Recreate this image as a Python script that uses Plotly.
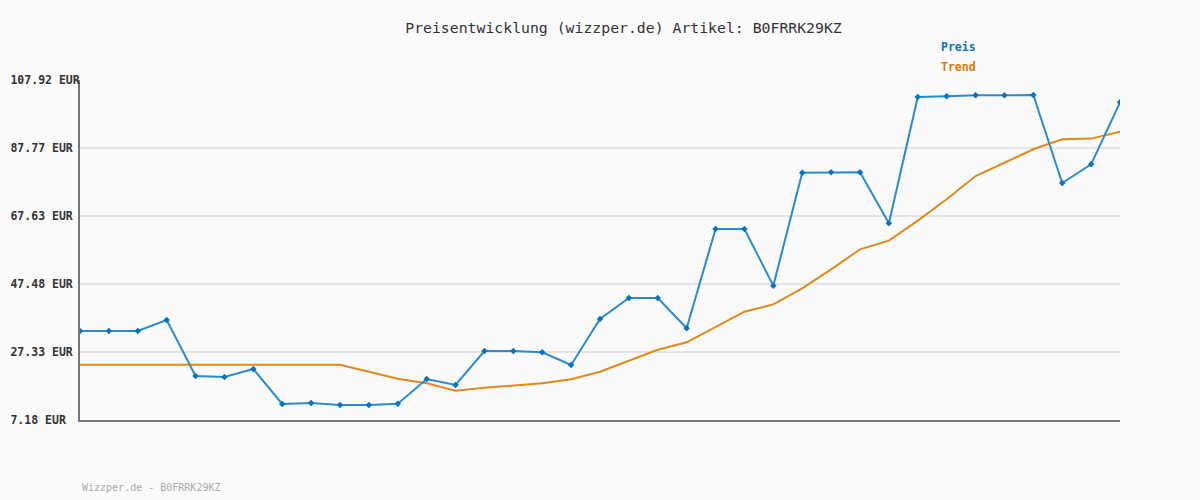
import plotly.graph_objects as go

preis = [33.55, 33.55, 33.55, 36.81, 20.22, 19.92, 22.29, 11.92, 12.22, 11.62, 11.62, 12.0,
         19.33, 17.55, 27.62, 27.62, 27.24, 23.48, 37.11, 43.33, 43.33, 34.35, 63.77, 63.77,
         46.98, 80.46, 80.57, 80.57, 65.46, 102.89, 103.09, 103.39, 103.39, 103.48, 77.40,
         82.94, 101.31]
trend = [23.57, 23.57, 23.57, 23.57, 23.57, 23.57, 23.57, 23.57, 23.57, 23.57, 21.49, 19.42,
         18.04, 15.87, 16.75, 17.35, 18.04, 19.23, 21.49, 24.75, 28.01, 30.19, 34.83, 39.27,
         41.45, 46.20, 51.83, 57.76, 60.31, 66.24, 72.57, 79.48, 83.41, 87.39, 90.35, 90.55,
         92.6]
x_idx = list(range(len(preis)))
tick_vals = [7.18, 27.33, 47.48, 67.63, 87.77, 107.92]
tick_text = ["7.18 EUR", "27.33 EUR", "47.48 EUR", "67.63 EUR", "87.77 EUR", "107.92 EUR"]

MONO = "DejaVu Sans Mono, Liberation Mono, monospace"
width_chars = max(len(t) for t in tick_text)
padded = [t + "\u00a0" * (width_chars - len(t)) for t in tick_text]

fig = go.Figure()
fig.add_trace(go.Scatter(x=x_idx, y=trend, mode="lines", name="Trend",
                         line=dict(color="#e08a1c", width=2), hoverinfo="skip"))
fig.add_trace(go.Scatter(x=x_idx, y=preis, mode="lines+markers", name="Preis",
                         line=dict(color="#2a8bd0", width=2),
                         marker=dict(symbol="diamond", size=5, color="#0a72c2")))

fig.update_layout(
    width=1200, height=500,
    paper_bgcolor="#fafafa", plot_bgcolor="#fafafa",
    margin=dict(l=80, r=80, t=80, b=80, autoexpand=False),
    showlegend=False,
    title=dict(text="Preisentwicklung (wizzper.de) Artikel: B0FRRK29KZ",
               x=623.5 / 1200, xref="paper" if False else "container",
               xanchor="center", y=0.944, yanchor="middle",
               font=dict(family=MONO, size=14.8, color="#333333")),
    xaxis=dict(range=[0, len(preis) - 1], showgrid=False, zeroline=False,
               showticklabels=False, ticks="", showline=True, automargin=False,
               linecolor="#777777", linewidth=2),
    yaxis=dict(range=[tick_vals[0], tick_vals[-1]], tickmode="array",
               tickvals=tick_vals, ticktext=padded, ticks="", automargin=False,
               showgrid=True, gridcolor="#e4e4e4", gridwidth=2, zeroline=False,
               showline=True, linecolor="#777777", linewidth=2,
               ticklabelstandoff=-4,
               tickfont=dict(family=MONO, size=11.5, color="#333333", weight="bold")),
    annotations=[
        dict(text="<b>Preis</b>", x=939, y=47, xref="paper", yref="paper",
             showarrow=False, xanchor="left", yanchor="middle",
             font=dict(family=MONO, size=11.5, color="#0a72c2")),
        dict(text="<b>Trend</b>", x=939, y=67, xref="paper", yref="paper",
             showarrow=False, xanchor="left", yanchor="middle",
             font=dict(family=MONO, size=11.5, color="#d9780a")),
        dict(text="Wizzper.de - B0FRRK29KZ", x=80, y=487, xref="paper", yref="paper",
             showarrow=False, xanchor="left", yanchor="middle",
             font=dict(family=MONO, size=10, color="#aaaaaa")),
    ],
)
# convert pixel positions of annotations to paper coordinates
pw, ph = 1200 - 160, 500 - 160
for a in fig.layout.annotations:
    a.x = (a.x - 80) / pw
    a.y = (420 - a.y) / ph

fig.write_html("out.html", config={"displayModeBar": False},
               post_script="document.body.style.margin='0';document.body.style.background='#fafafa';")
